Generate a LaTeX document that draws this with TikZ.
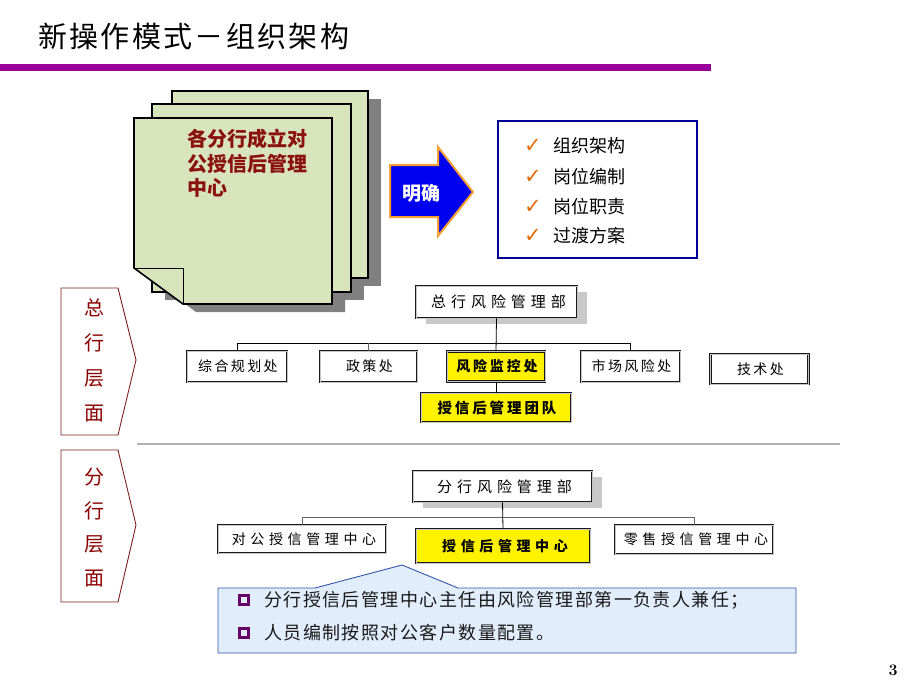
\documentclass[tikz,border=0pt]{standalone}
\usepackage{fontspec}
\usetikzlibrary{shadows}
\newfontfamily\cjk{Noto Sans CJK SC}
\newfontfamily\cjkT[LetterSpace=8]{Noto Sans CJK SC}
\newfontfamily\cjkA[LetterSpace=17]{Noto Sans CJK SC}
\newfontfamily\cjkY[LetterSpace=20]{Noto Sans CJK SC}
\newfontfamily\cjkB[LetterSpace=33]{Noto Sans CJK SC}
\newfontfamily\cjkC[LetterSpace=8]{Noto Sans CJK SC}
\newfontfamily\dejavu{DejaVu Sans}
\definecolor{purplebar}{HTML}{990099}
\definecolor{pagegreen}{HTML}{D8E4BC}
\definecolor{pagered}{HTML}{8B1010}
\definecolor{arrowblue}{HTML}{0000F0}
\definecolor{arroworange}{HTML}{F5A033}
\definecolor{boxblue}{HTML}{000099}
\definecolor{checkorange}{HTML}{E36C09}
\definecolor{chevred}{HTML}{7F1F1F}
\definecolor{chevtext}{HTML}{8B0000}
\definecolor{calloutfill}{HTML}{E1EDFB}
\definecolor{calloutdraw}{HTML}{3355AA}
\definecolor{bulletpurple}{HTML}{660066}
\definecolor{orgshadow}{HTML}{C8C8C8}
\definecolor{pageshadow}{HTML}{808080}
\begin{document}
\begin{tikzpicture}[x=1pt,y=-1pt,
  page/.style={fill=pagegreen, draw=black, line width=1.6pt, line join=miter},
  pshadow/.style={fill=pageshadow},
  pagetxt/.style={anchor=base west, inner sep=0pt, text=pagered, font=\cjk\bfseries\fontsize{20}{24}\selectfont},
  checktxt/.style={anchor=base west, inner sep=0pt, font=\cjk\fontsize{18}{20}\selectfont},
  checkmark/.style={anchor=base, inner sep=0pt, text=checkorange, font=\dejavu\bfseries\fontsize{21}{21}\selectfont},
  chev/.style={draw=chevred, line width=0.9pt, fill=white},
  chevtxt/.style={anchor=base, inner sep=0pt, text=chevtext, font=\cjk\fontsize{20}{20}\selectfont},
  orgbox/.style={draw=black!90, double=gray!45, line width=0.7pt, double distance=0.7pt, fill=white, inner sep=0pt},
  topbox/.style={orgbox, general shadow={fill=orgshadow, shadow xshift=10pt, shadow yshift=-6pt}, font=\cjkB\fontsize{15}{15}\selectfont},
  lvbox/.style={orgbox, font=\cjkA\fontsize{14}{14}\selectfont},
  lvboxw/.style={orgbox, font=\cjkB\fontsize{14}{14}\selectfont},
  ybox/.style={orgbox, fill=yellow},
  conn/.style={draw=black, line width=0.8pt},
  gconn/.style={draw=gray!80!black, line width=0.8pt},
  calltxt/.style={anchor=base west, inner sep=0pt, text=black!90, font=\cjkC\fontsize{18}{20}\selectfont},
  bullet/.style={draw=bulletpurple, line width=2.6pt, minimum size=9.5pt, inner sep=0pt}
]
\useasboundingbox (0,0) rectangle (920,690);

% title and bar
\node[anchor=west, inner sep=0pt, font=\cjkT\fontsize{29}{30}\selectfont] (title) at (38,36) {新操作模式－组织架构};
\fill[purplebar] (0,64) rectangle (711,71);

% stacked pages: shadows
\fill[pshadow] (185,99) rectangle (381,286);
\fill[pshadow] (165,112) rectangle (364,300);
\fill[pshadow] (147,126) -- (345,126) -- (345,312) -- (196,312) -- (147,276) -- cycle;
% pages
\filldraw[page] (172,91) rectangle (368,278);
\filldraw[page] (152,104) rectangle (351,292);
\filldraw[page] (134,118) -- (332,118) -- (332,304) -- (183,304) -- (134,268) -- cycle;
\draw[line width=1pt] (134,268) -- (183,268) -- (183,304);
\node[pagetxt] (p1) at (187,146.6) {各分行成立对};
\node[pagetxt] (p2) at (187,171.2) {公授信后管理};
\node[pagetxt] (p3) at (187,195.8) {中心};

% arrow
\filldraw[fill=arrowblue, draw=arroworange, line width=2pt, line join=miter]
  (390,165) -- (438,165) -- (438,147) -- (473,192) -- (438,236) -- (438,217) -- (390,217) -- cycle;
\node[anchor=base, inner sep=0pt, text=white, font=\cjk\bfseries\fontsize{19}{19}\selectfont] (mq) at (421,200) {明确};

% checklist box
\node[draw=boxblue, line width=2pt, minimum width=199pt, minimum height=137pt, anchor=north west, inner sep=0pt] (clist) at (497,120) {};
\node[checkmark] (k1) at (533,152) {✓};
\node[checkmark] (k2) at (533,183.5) {✓};
\node[checkmark] (k3) at (533,213.5) {✓};
\node[checkmark] (k4) at (533,242) {✓};
\node[checktxt] (t1) at (553,152.3) {组织架构};
\node[checktxt] (t2) at (553,183.8) {岗位编制};
\node[checktxt] (t3) at (553,213.8) {岗位职责};
\node[checktxt] (t4) at (553,242.3) {过渡方案};

% chevrons
\draw[chev] (61,288) -- (118,288) -- (136,360) -- (118,435) -- (61,435) -- cycle;
\node[chevtxt] (z1) at (94,315.6) {总};
\node[chevtxt] (z2) at (94,350.6) {行};
\node[chevtxt] (z3) at (94,385.6) {层};
\node[chevtxt] (z4) at (94,420.6) {面};
\draw[chev] (61,450) -- (118,450) -- (136,525) -- (118,602) -- (61,602) -- cycle;
\node[chevtxt] (f1) at (94,484.6) {分};
\node[chevtxt] (f2) at (94,518.1) {行};
\node[chevtxt] (f3) at (94,551.6) {层};
\node[chevtxt] (f4) at (94,585.1) {面};

% separator
\draw[gray!60, line width=1.2pt] (137,444) -- (840,444);

% top org chart
\node[topbox, minimum width=161pt, minimum height=32pt] (zhb) at (496.5,302) {\hspace*{4pt}总行风险管理部};
\node[lvbox, minimum width=100pt, minimum height=31pt] (zonghe) at (237,366.5) {\hspace*{2pt}综合规划处};
\node[lvbox, minimum width=97pt, minimum height=31pt] (zhengce) at (368.5,366.5) {\hspace*{2pt}政策处};
\node[ybox, minimum width=98pt, minimum height=30pt, font=\cjkY\bfseries\fontsize{14}{14}\selectfont] (fxjk) at (496,366.5) {\hspace*{2pt}风险监控处};
\node[lvbox, minimum width=99pt, minimum height=31pt] (shichang) at (630.5,366.5) {\hspace*{2pt}市场风险处};
\node[lvbox, minimum width=98pt, minimum height=30pt] (jishu) at (759.5,369) {\hspace*{2pt}技术处};
\node[ybox, minimum width=150pt, minimum height=29pt, font=\cjkY\bfseries\fontsize{14.5}{14.5}\selectfont] (team) at (496,407.5) {\hspace*{2pt}授信后管理团队};
\coordinate (hb1) at (0,343);
\draw[conn] (zonghe.north) |- (shichang.north |- hb1) -- (shichang.north);
\draw[gconn] (zhengce.north) -- (zhengce.north |- hb1);
\draw[conn] (zhb.south) -- (fxjk.north);
\draw[conn] (fxjk.south) -- (team.north);

% bottom org chart
\node[topbox, minimum width=179pt, minimum height=31pt] (fhb) at (502.5,486.5) {\hspace*{4pt}分行风险管理部};
\node[lvboxw, minimum width=168pt, minimum height=28pt] (duigong) at (302,539) {\hspace*{4pt}对公授信管理中心};
\node[ybox, minimum width=174pt, minimum height=34pt, font=\cjkB\bfseries\fontsize{14}{14}\selectfont] (shxz) at (503,546) {\hspace*{4pt}授信后管理中心};
\node[lvboxw, minimum width=158pt, minimum height=29pt] (lingshou) at (694,539.5) {\hspace*{4pt}零售授信管理中心};
\coordinate (hb2) at (0,517);
\draw[gconn] (duigong.north) |- (lingshou.north |- hb2) -- (lingshou.north);
\draw[conn] (fhb.south) -- (shxz.north);

% callout
\filldraw[fill=calloutfill, draw=calloutdraw, line width=0.9pt, line join=miter]
  (218,588) -- (315,588) -- (402,565) -- (458,588) -- (796,588) -- (796,653) -- (218,653) -- cycle;
\node[bullet] (b1) at (244,600) {};
\node[bullet] (b2) at (244,633) {};
\node[calltxt] (c1) at (264,606.8) {分行授信后管理中心主任由风险管理部第一负责人兼任；};
\node[calltxt] (c2) at (264,639.8) {人员编制按照对公客户数量配置。};

% page number
\node[inner sep=0pt, font=\bfseries\fontsize{16}{16}\selectfont] (pnum) at (893,670) {3};
\end{tikzpicture}
\end{document}
